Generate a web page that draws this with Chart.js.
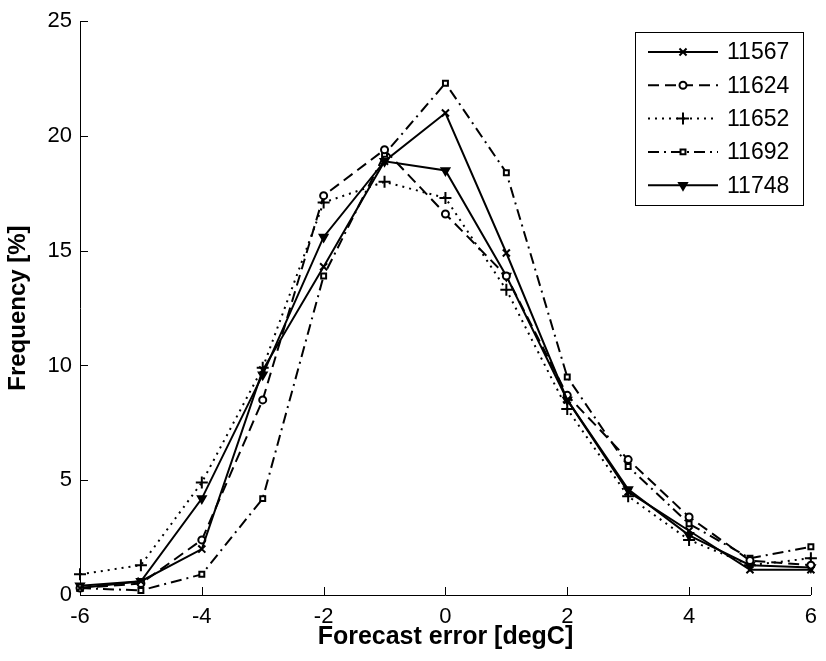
<!DOCTYPE html>
<html>
<head>
<meta charset="utf-8">
<script src="https://cdn.jsdelivr.net/npm/chart.js@4.4.1/dist/chart.umd.min.js"></script>
<style>
  html, body { margin: 0; padding: 0; background: #fff; }
  #wrap { width: 826px; height: 661px; }
</style>
</head>
<body>
<div id="wrap"><canvas id="errChart" width="826" height="661"></canvas></div>
<script>
// forecast error bins (degC) and frequency (%) per station
const errorBins = [-6, -5, -4, -3, -2, -1, 0, 1, 2, 3, 4, 5, 6];
const stations = ['11567', '11624', '11652', '11692', '11748'];
const freq11567 = [0.3, 0.6, 2.0, 9.8, 14.3, 18.9, 21.0, 14.9, 8.5, 4.5, 2.8, 1.1, 1.1];
const freq11624 = [0.3, 0.5, 2.4, 8.5, 17.4, 19.4, 16.6, 13.9, 8.7, 5.9, 3.4, 1.5, 1.3];
const freq11652 = [0.9, 1.3, 4.9, 9.9, 17.1, 18.0, 17.3, 13.3, 8.1, 4.3, 2.4, 1.3, 1.6];
const freq11692 = [0.3, 0.2, 0.9, 4.2, 13.9, 19.2, 22.3, 18.4, 9.5, 5.6, 3.1, 1.6, 2.1];
const freq11748 = [0.4, 0.6, 4.2, 9.6, 15.6, 18.9, 18.5, 13.9, 8.5, 4.6, 2.6, 1.3, 1.2];
const xTicks = [-6, -4, -2, 0, 2, 4, 6];
const yTicks = [0, 5, 10, 15, 20, 25];

const FONT = "'Liberation Sans', Arial, sans-serif";

function toPoints(vals) {
    return errorBins.map((x, i) => ({ x: x, y: vals[i] }));
}

// line style per station, matlab-like
const styles = [
    { data: freq11567, dash: [], point: 'crossRot', radius: 5, rot: 0, fill: '#000' },
    { data: freq11624, dash: [11, 6], point: 'circle', radius: 3.5, rot: 0, fill: '#fff' },
    { data: freq11652, dash: [2, 5], point: 'cross', radius: 6, rot: 0, fill: '#000' },
    { data: freq11692, dash: [11, 5, 2, 5], point: 'rect', radius: 3.5, rot: 0, fill: '#fff' },
    { data: freq11748, dash: [], point: 'triangle', radius: 4.5, rot: 180, fill: '#000' }
];

const datasets = styles.map((s, i) => ({
    label: stations[i],
    data: toPoints(s.data),
    borderColor: '#000',
    borderWidth: 2,
    borderDash: s.dash,
    pointStyle: s.point,
    pointRadius: s.radius,
    pointRotation: s.rot,
    pointBackgroundColor: s.fill,
    pointBorderColor: '#000',
    pointBorderWidth: 2,
    tension: 0,
    fill: false,
    clip: false
}));

// ticks pointing into the plot area
const inwardTicks = {
    id: 'inwardTicks',
    beforeDatasetsDraw(chart) {
        const { ctx, chartArea, scales } = chart;
        const len = 8;
        ctx.save();
        ctx.strokeStyle = '#000';
        ctx.lineWidth = 1;
        ctx.beginPath();
        xTicks.forEach(v => {
            const px = Math.round(scales.x.getPixelForValue(v)) + 0.5;
            ctx.moveTo(px, chartArea.bottom);
            ctx.lineTo(px, chartArea.bottom - len);
        });
        yTicks.forEach(v => {
            const py = Math.round(scales.y.getPixelForValue(v)) + 0.5;
            ctx.moveTo(chartArea.left, py);
            ctx.lineTo(chartArea.left + len, py);
        });
        ctx.stroke();
        ctx.restore();
    }
};

// boxed legend with line samples and markers
const boxLegend = {
    id: 'boxLegend',
    afterDraw(chart) {
        const ctx = chart.ctx;
        const bx = 635.5, by = 32.5, bw = 168, bh = 173;
        ctx.save();
        ctx.fillStyle = '#fff';
        ctx.fillRect(bx, by, bw, bh);
        ctx.strokeStyle = '#000';
        ctx.lineWidth = 1;
        ctx.setLineDash([]);
        ctx.strokeRect(bx, by, bw, bh);

        chart.data.datasets.forEach((ds, i) => {
            const y = 52 + i * 33.3;
            ctx.strokeStyle = ds.borderColor;
            ctx.lineWidth = ds.borderWidth;
            ctx.setLineDash(ds.borderDash);
            ctx.beginPath();
            ctx.moveTo(648, y);
            ctx.lineTo(718, y);
            ctx.stroke();

            ctx.setLineDash([]);
            ctx.fillStyle = ds.pointBackgroundColor;
            ctx.lineWidth = ds.pointBorderWidth;
            Chart.helpers.drawPoint(ctx, {
                pointStyle: ds.pointStyle,
                radius: ds.pointRadius,
                rotation: ds.pointRotation,
                borderWidth: ds.pointBorderWidth
            }, 683, y);

            ctx.fillStyle = '#000';
            ctx.font = '23px ' + FONT;
            ctx.textAlign = 'left';
            ctx.textBaseline = 'middle';
            ctx.fillText(ds.label, 727, y + 1);
        });
        ctx.restore();
    }
};

new Chart(document.getElementById('errChart'), {
    type: 'line',
    data: { datasets: datasets },
    plugins: [inwardTicks, boxLegend],
    options: {
        responsive: false,
        devicePixelRatio: 1,
        animation: false,
        layout: { padding: { top: 20, right: 8, left: 0, bottom: 0 } },
        plugins: {
            legend: { display: false },
            tooltip: { enabled: false }
        },
        scales: {
            x: {
                type: 'linear',
                min: -6,
                max: 6,
                afterBuildTicks: s => { s.ticks = xTicks.map(v => ({ value: v })); },
                afterFit: s => { s.height = 66; },
                grid: { display: false, drawTicks: false },
                border: { display: true, color: '#000', width: 1 },
                ticks: {
                    color: '#000',
                    padding: 9,
                    maxRotation: 0,
                    font: { family: FONT, size: 22 }
                },
                title: {
                    display: true,
                    text: 'Forecast error [degC]',
                    color: '#000',
                    padding: { top: 0, bottom: 9 },
                    font: { family: FONT, size: 25, weight: 'bold' }
                }
            },
            y: {
                type: 'linear',
                min: 0,
                max: 25,
                afterBuildTicks: s => { s.ticks = yTicks.map(v => ({ value: v })); },
                afterFit: s => { s.width = 80; },
                grid: { display: false, drawTicks: false },
                border: { display: true, color: '#000', width: 1 },
                ticks: {
                    color: '#000',
                    padding: 8,
                    font: { family: FONT, size: 22 }
                },
                title: {
                    display: true,
                    text: 'Frequency [%]',
                    color: '#000',
                    padding: { top: 4, bottom: 0 },
                    font: { family: FONT, size: 24, weight: 'bold' }
                }
            }
        }
    }
});
</script>
</body>
</html>
